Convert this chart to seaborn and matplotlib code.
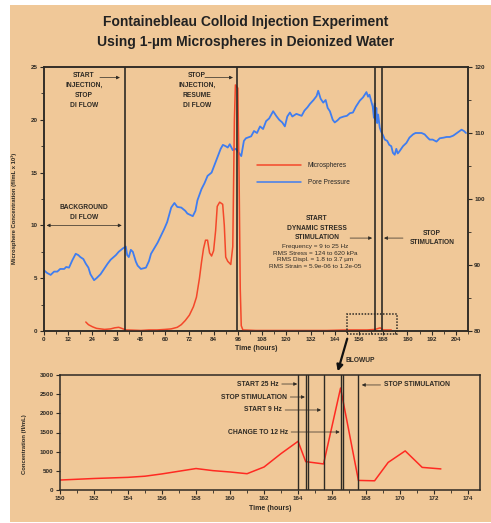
import numpy as np
import pandas as pd
import matplotlib
matplotlib.use("Agg")
import matplotlib.pyplot as plt
from matplotlib.lines import Line2D
from matplotlib.patches import Rectangle
from matplotlib.ticker import MultipleLocator
import seaborn as sns

# ---------------- data ----------------
# Microsphere concentration (fl/mL x 10^3) vs time (hours)
micro_hours = [20.7, 22, 24, 26, 28, 30, 33, 35, 37, 38.5, 40.5, 44, 48, 52, 56, 60, 63, 66, 68,
               70, 72, 74, 75.5, 77, 78, 79, 80, 81, 82, 83, 84, 85, 85.8, 87, 88.5, 89.3, 90,
               91, 92.5, 93.5, 94.3, 94.8, 96, 96.6, 97.2, 97.7, 98.5, 105, 120, 140, 150, 160,
               164, 166.5, 168, 172]
micro_conc = [0.85, 0.6, 0.4, 0.25, 0.2, 0.15, 0.2, 0.3, 0.35, 0.25, 0.1, 0.08, 0.05, 0.1, 0.1,
              0.15, 0.2, 0.35, 0.6, 1.0, 1.5, 2.3, 3.2, 5.0, 6.5, 7.8, 8.6, 8.6, 7.4, 7.1, 7.6,
              9.5, 11.8, 12.2, 12.0, 10.0, 7.0, 6.6, 6.3, 8.0, 20.0, 23.3, 23.0, 15.0, 4.0, 0.5,
              0.1, 0.05, 0.05, 0.05, 0.1, 0.1, 0.15, 0.3, 0.1, 0.1]

# Pore pressure vs time (hours)
pore_hours = [0, 1.5, 3.3, 5, 6.6, 8, 10, 11, 12.4, 14, 15.7, 17, 18, 19.5, 20.7, 22, 23, 24.8,
              26, 28, 30, 31.5, 33, 35.6, 37, 39, 40.5, 41.2, 42, 43, 44, 45.5, 46.4, 48, 50.5,
              52, 53, 56.3, 59.6, 61, 63, 64.6, 66, 68, 70, 71, 73.7, 75, 76, 78, 79.5, 81, 83,
              84.5, 86, 87.5, 88.6, 90, 91, 92, 93.5, 95, 96, 97.7, 99, 100, 102.6, 104, 105.5,
              107, 108.5, 110, 111.5, 113.5, 115, 116.5, 118, 119.3, 120.5, 121.8, 123, 125,
              127.6, 129, 130.5, 131.7, 133.5, 135, 135.8, 137, 138.3, 139.5, 140.5, 141.6, 143,
              144, 145.3, 146.6, 148.5, 150, 151.5, 153, 154.5, 156.4, 158, 159.7, 160.5, 161.2,
              162, 162.8, 163.4, 163.8, 164.2, 164.6, 165, 165.5, 166.3, 167, 168, 168.8, 170,
              171, 172, 172.8, 173.7, 174.5, 175.2, 176, 177.8, 179.5, 181, 182.8, 184, 187,
              188.5, 190, 191, 192.5, 194.4, 196, 198, 199.4, 201, 202.7, 204.5, 206.8, 208, 209]
pore_pressure = [89.2, 88.8, 88.5, 89.0, 89.0, 89.4, 89.4, 89.7, 89.6, 90.7, 91.7, 91.5, 91.2,
                 90.9, 90.2, 89.6, 88.6, 87.7, 88.0, 88.6, 89.5, 90.2, 90.8, 91.5, 92.0, 92.5,
                 92.8, 91.5, 91.2, 92.3, 92.0, 90.5, 89.9, 89.4, 89.6, 90.6, 91.7, 93.4, 95.5,
                 96.5, 98.7, 99.4, 98.8, 98.7, 98.2, 97.8, 97.4, 98.2, 99.8, 101.5, 102.4, 103.5,
                 104.0, 105.2, 106.4, 107.6, 108.2, 108.0, 107.8, 108.3, 107.4, 107.6, 107.2,
                 106.5, 108.8, 109.2, 109.5, 110.3, 110.0, 111.0, 110.6, 111.8, 112.2, 113.3,
                 112.6, 112.0, 111.6, 111.0, 112.5, 113.1, 112.5, 112.9, 112.6, 113.4, 113.9,
                 114.4, 115.0, 115.6, 116.4, 115.2, 114.6, 115.0, 113.8, 113.3, 112.0, 111.6,
                 111.9, 112.3, 112.5, 112.6, 113.0, 113.1, 114.0, 114.9, 115.4, 116.2, 115.5,
                 115.8, 114.9, 114.0, 112.3, 114.5, 112.0, 113.8, 111.5, 112.8, 110.8, 110.2,
                 109.6, 109.0, 108.8, 108.2, 108.0, 107.0, 106.7, 107.6, 106.9, 107.2, 108.0,
                 108.5, 109.3, 109.8, 110.0, 110.0, 109.8, 109.3, 109.0, 109.0, 108.7, 109.2,
                 109.3, 109.4, 109.4, 109.6, 110.0, 110.5, 110.3, 110.0]

# Blow-up of the stimulation period: concentration (fl/mL)
blow_hours = [150, 152, 154, 155, 156, 157, 158, 159, 160, 161, 162, 163, 164, 164.45, 165.5,
              166.5, 167.55, 168.5, 169.3, 170.3, 171.3, 172.4]
blow_conc = [260, 300, 330, 360, 420, 490, 560, 505, 470, 425, 600, 950, 1270, 740, 680, 2660,
             250, 240, 720, 1020, 590, 550]

# Event times (hours)
top_events = [40, 95.6, 164, 167.5]
blow_events = [164.0, 164.45, 164.6, 165.55, 166.54, 166.67, 167.55]

top_xticks = list(range(0, 205, 12))
blow_xticks = list(range(150, 175, 2))

micro_df = pd.DataFrame({"hours": micro_hours, "conc": micro_conc})
pore_df = pd.DataFrame({"hours": pore_hours, "psi": pore_pressure})
blow_df = pd.DataFrame({"hours": blow_hours, "conc": blow_conc})

# ---------------- style ----------------
sns.set_theme(style="ticks")
plt.rcParams["font.family"] = ["Liberation Sans", "DejaVu Sans"]
plt.rcParams["axes.linewidth"] = 1.1
plt.rcParams["xtick.major.width"] = 0.8
plt.rcParams["ytick.major.width"] = 0.8
plt.rcParams["xtick.minor.width"] = 0.6
plt.rcParams["ytick.minor.width"] = 0.6
plt.rcParams["xtick.major.size"] = 3
plt.rcParams["ytick.major.size"] = 3
plt.rcParams["xtick.minor.size"] = 2
plt.rcParams["ytick.minor.size"] = 2

TAN = "#f0c898"
INK = "#2e2a24"
RED = "#f4472a"
BLUE = "#3f7df0"
W, H = 491, 523

fig = plt.figure(figsize=(W / 100, H / 100), dpi=100)
fig.patch.set_facecolor("white")
fig.add_artist(Rectangle((10 / W, 1 / H), 1 - 10 / W, 1 - 6 / H, transform=fig.transFigure,
                         facecolor=TAN, edgecolor="none", zorder=-10))

fig.text(0.5, 1 - 22 / H, "Fontainebleau Colloid Injection Experiment", ha="center",
         va="center", fontsize=10, fontweight="bold", color="#222222")
fig.text(0.5, 1 - 42 / H, "Using 1-\u00b5m Microspheres in Deionized Water", ha="center",
         va="center", fontsize=10, fontweight="bold", color="#222222")

# ---------------- main panel ----------------
ax = fig.add_axes([44 / W, 1 - 331 / H, 424 / W, 264 / H])
ax.set_facecolor("none")
ax2 = ax.twinx()
ax2.set_facecolor("none")

sns.lineplot(data=pore_df, x="hours", y="psi", ax=ax2, color=BLUE, linewidth=1.3,
             estimator=None, sort=False)
sns.lineplot(data=micro_df, x="hours", y="conc", ax=ax, color=RED, linewidth=1.1,
             estimator=None, sort=False)
ax.set_zorder(ax2.get_zorder() + 1)

ax.set_xlim(0, 210)
ax.set_ylim(0, 25)
ax2.set_ylim(80, 120)
ax.set_xticks(top_xticks)
ax.xaxis.set_minor_locator(MultipleLocator(6))
ax.yaxis.set_major_locator(MultipleLocator(5))
ax.yaxis.set_minor_locator(MultipleLocator(2.5))
ax2.yaxis.set_major_locator(MultipleLocator(10))
ax2.yaxis.set_minor_locator(MultipleLocator(5))

for a in (ax, ax2):
    for s in a.spines.values():
        s.set_color(INK)
        s.set_visible(True)
    a.tick_params(which="both", colors=INK, labelsize=4.5, pad=1.5)
    for lab in a.get_xticklabels() + a.get_yticklabels():
        lab.set_fontweight("bold")

ax.set_xlabel("Time (hours)", fontsize=5, fontweight="bold", color=INK, labelpad=2)
ax.set_ylabel("Microsphere Concentration (fl/mL x 10\u00b3)", fontsize=4.2,
              fontweight="bold", color=INK)
ax.yaxis.set_label_coords(-0.064, 0.464)
ax2.set_ylabel("")

for t in top_events:
    ax.axvline(t, color=INK, linewidth=1.2, zorder=5)

ax.legend(handles=[Line2D([], [], color=RED, lw=1.1), Line2D([], [], color=BLUE, lw=1.1)],
          labels=["Microspheres", "Pore Pressure"], loc="upper left",
          bbox_to_anchor=(0.502, 0.64), frameon=False, fontsize=4.7, handlelength=6.8,
          handletextpad=1.0, labelspacing=1.5, borderpad=0, borderaxespad=0)

ann = dict(fontsize=4.8, fontweight="bold", color=INK, ha="center", va="top",
           linespacing=1.55)
arrow = dict(arrowstyle="-|>", color=INK, lw=0.5, mutation_scale=5, shrinkA=0, shrinkB=0)

ax.text(19.8, 24.5, "START\nINJECTION,\nSTOP\nDI FLOW", **ann)
ax.annotate("", xy=(37.6, 24.0), xytext=(27.7, 24.0), arrowprops=arrow)
ax.text(75.8, 24.5, "STOP\nINJECTION,\nRESUME\nDI FLOW", **ann)
ax.annotate("", xy=(93.6, 24.0), xytext=(79.7, 24.0), arrowprops=arrow)

ax.text(19.8, 12.05, "BACKGROUND\nDI FLOW", **ann)
ax.annotate("", xy=(38.5, 10.0), xytext=(1.3, 10.0),
            arrowprops=dict(arrowstyle="<|-|>", color=INK, lw=0.5, mutation_scale=5,
                            shrinkA=0, shrinkB=0))

ax.text(135.2, 11.0, "START\nDYNAMIC STRESS\nSTIMULATION", **ann)
ax.annotate("", xy=(162.5, 8.8), xytext=(151.6, 8.8), arrowprops=arrow)
ax.text(134.2, 8.25,
        "Frequency = 9 to 25 Hz\nRMS Stress = 124 to 620 kPa\n"
        "RMS Displ. = 1.8 to 3.7 \u00b5m\nRMS Strain = 5.9e-06 to 1.2e-05",
        fontsize=4.6, color=INK, ha="center", va="top", linespacing=1.45)
ax.text(192.2, 9.6, "STOP\nSTIMULATION", **ann)
ax.annotate("", xy=(168.4, 8.8), xytext=(177.8, 8.8), arrowprops=arrow)

# dotted frame marking the enlarged interval
ax.add_patch(Rectangle((150, -0.25), 25, 1.85, fill=False, linestyle=(0, (1, 1)),
                       linewidth=1.1, edgecolor=INK, clip_on=False, zorder=6))

# ---------------- blow-up panel ----------------
bx = fig.add_axes([60 / W, 1 - 490 / H, 420 / W, 115 / H])
bx.set_facecolor("none")
sns.lineplot(data=blow_df, x="hours", y="conc", ax=bx, color="#ff2a22", linewidth=1.1,
             estimator=None, sort=False)
bx.set_xlim(150, 174.7)
bx.set_ylim(0, 3000)
bx.set_xticks(blow_xticks)
bx.xaxis.set_minor_locator(MultipleLocator(1))
bx.yaxis.set_major_locator(MultipleLocator(500))
for s in bx.spines.values():
    s.set_color(INK)
    s.set_visible(True)
bx.tick_params(which="both", colors=INK, labelsize=4.5, pad=1.5)
for lab in bx.get_xticklabels() + bx.get_yticklabels():
    lab.set_fontweight("bold")
bx.set_xlabel("Time (hours)", fontsize=5, fontweight="bold", color=INK, labelpad=3)
bx.set_ylabel("Concentration (fl/mL)", fontsize=4.2, fontweight="bold", color=INK)
bx.yaxis.set_label_coords(-0.079, 0.4)

for t in blow_events:
    bx.axvline(t, color=INK, linewidth=1.0, zorder=5)

bann = dict(fontsize=4.9, fontweight="bold", color=INK, va="center")
bx.annotate("START 25 Hz", xy=(163.95, 2765), xytext=(162.85, 2765), ha="right",
            arrowprops=arrow, **bann)
bx.annotate("STOP STIMULATION", xy=(164.4, 2426), xytext=(163.35, 2426), ha="right",
            arrowprops=arrow, **bann)
bx.annotate("START 9 Hz", xy=(165.35, 2087), xytext=(163.05, 2087), ha="right",
            arrowprops=arrow, **bann)
bx.annotate("CHANGE TO 12 Hz", xy=(166.45, 1513), xytext=(163.4, 1513), ha="right",
            arrowprops=arrow, **bann)
bx.annotate("", xy=(167.75, 2740), xytext=(168.85, 2740), arrowprops=arrow)
bx.text(169.05, 2740, "STOP STIMULATION", ha="left", **bann)

# link from the dotted frame to the blow-up panel
fig.add_artist(matplotlib.patches.FancyArrowPatch(
    (348 / W, 1 - 336 / H), (337 / W, 1 - 374 / H), transform=fig.transFigure,
    arrowstyle="-|>", mutation_scale=9, lw=1.6, color="#111111"))
fig.text(346 / W, 1 - 360 / H, "BLOWUP", fontsize=4.8, fontweight="bold", color=INK,
         ha="left", va="center")

fig.savefig("out.png", dpi=100, facecolor=fig.get_facecolor())
